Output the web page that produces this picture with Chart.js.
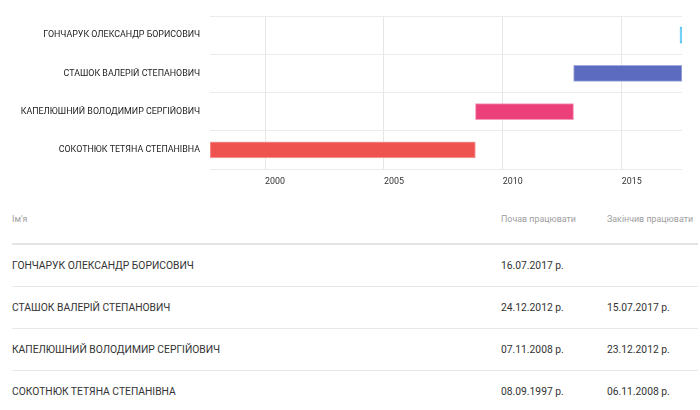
<!DOCTYPE html>
<html>
<head>
<meta charset="utf-8">
<script src="https://cdn.jsdelivr.net/npm/chart.js@4"></script>
<style>
    body { margin: 0; background: #fff; font-family: Roboto, sans-serif; }
    .chart-box { position: relative; width: 700px; height: 195px; }
    table { border-collapse: collapse; margin-left: 12px; width: 686px; table-layout: fixed; }
    th { font-weight: normal; font-size: 8.9px; color: #9e9e9e; text-align: left; height: 48px; padding: 0; border-bottom: 2px solid #e4e4e4; white-space: nowrap; }
    td { font-size: 10.3px; color: #333; height: 41px; padding: 0; border-bottom: 1px solid #e8e8e8; white-space: nowrap; }
    tr:last-child td { border-bottom: none; }
</style>
</head>
<body>
<div class="chart-box"><canvas id="timelineChart"></canvas></div>
<table id="staffTable">
    <colgroup><col style="width:489px"><col style="width:106px"><col style="width:91px"></colgroup>
    <thead><tr><th>Ім'я</th><th>Почав працювати</th><th>Закінчив працювати</th></tr></thead>
    <tbody></tbody>
</table>
<script>
const names = ['ГОНЧАРУК ОЛЕКСАНДР БОРИСОВИЧ', 'СТАШОК ВАЛЕРІЙ СТЕПАНОВИЧ', 'КАПЕЛЮШНИЙ ВОЛОДИМИР СЕРГІЙОВИЧ', 'СОКОТНЮК ТЕТЯНА СТЕПАНІВНА'];
const startDates = ['16.07.2017', '24.12.2012', '07.11.2008', '08.09.1997'];
const endDates = ['', '15.07.2017', '23.12.2012', '06.11.2008'];
const yearTicks = [2000, 2005, 2010, 2015];
const barColors = ['#4fc3f7', '#5c6bc0', '#ec407a', '#ef5350'];
const barBorders = ['#4fc3f7', '#a3abdc', '#f49bbb', '#f5a3a2'];

// "dd.mm.yyyy" -> decimal year
function toYear(s) {
    const p = s.split('.');
    const y = +p[2];
    const d = Date.UTC(y, +p[1] - 1, +p[0]);
    const y0 = Date.UTC(y, 0, 1);
    const y1 = Date.UTC(y + 1, 0, 1);
    return y + (d - y0) / (y1 - y0);
}

// still working -> zero length bar, drawn with minBarLength
const ranges = names.map(function(n, i) {
    const a = toYear(startDates[i]);
    const b = endDates[i] ? toYear(endDates[i]) : a;
    return [a, b];
});
const allValues = ranges.flat();
const xMin = Math.min.apply(null, allValues);
const xMax = Math.max.apply(null, allValues);

// table
const tbody = document.querySelector('#staffTable tbody');
names.forEach(function(n, i) {
    const tr = document.createElement('tr');
    const cells = [n, startDates[i] + ' р.', endDates[i] ? endDates[i] + ' р.' : ''];
    cells.forEach(function(c) {
        const td = document.createElement('td');
        td.textContent = c;
        tr.appendChild(td);
    });
    tbody.appendChild(tr);
});

document.addEventListener('DOMContentLoaded', function() {
    const ctx = document.getElementById('timelineChart');
    new Chart(ctx, {
        type: 'bar',
        data: {
            labels: names,
            datasets: [{
                data: ranges,
                backgroundColor: barColors,
                borderColor: barBorders,
                borderWidth: 1,
                borderSkipped: false,
                barThickness: 16,
                minBarLength: 2,
                base: xMax // makes the zero-length bar grow leftwards from the right edge
            }]
        },
        options: {
            indexAxis: 'y',
            responsive: true,
            maintainAspectRatio: false,
            animation: false,
            layout: { padding: { top: 16, right: 18, left: 0, bottom: 0 } },
            plugins: {
                legend: { display: false },
                tooltip: { enabled: false }
            },
            scales: {
                x: {
                    type: 'linear',
                    min: xMin,
                    max: xMax,
                    afterBuildTicks: function(scale) {
                        scale.ticks = yearTicks.map(function(v) { return { value: v }; });
                    },
                    afterFit: function(scale) { scale.height = 26; },
                    border: { display: false },
                    grid: { color: '#e6e6e6', drawTicks: false },
                    ticks: {
                        padding: 7,
                        align: 'start',
                        color: '#333',
                        font: { family: 'Roboto', size: 8.9 },
                        callback: function(v) { return v; }
                    }
                },
                y: {
                    afterFit: function(scale) { scale.width = 210; },
                    border: { display: false },
                    grid: { color: '#ebebeb', drawTicks: false },
                    ticks: {
                        padding: 10,
                        color: '#222',
                        font: { family: 'Roboto', size: 8.9 }
                    }
                }
            }
        }
    });
});
</script>
</body>
</html>
